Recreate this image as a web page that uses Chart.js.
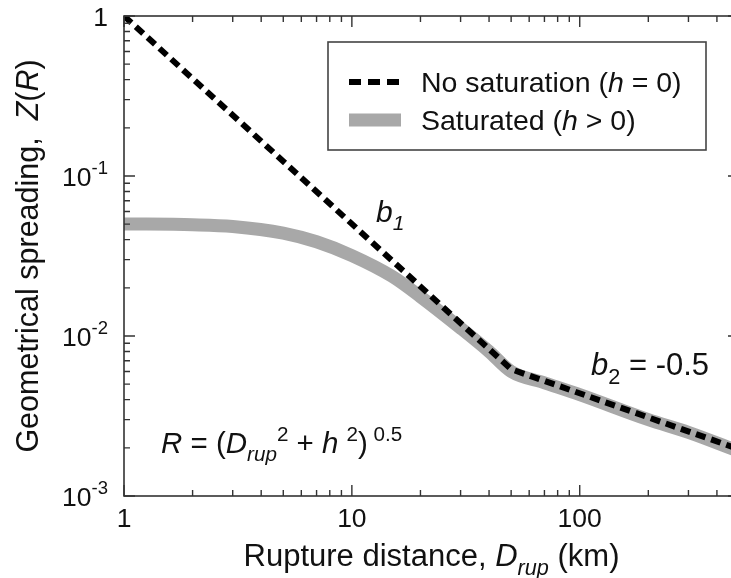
<!DOCTYPE html>
<html>
<head>
<meta charset="utf-8">
<script src="https://cdn.jsdelivr.net/npm/chart.js@4"></script>
<style>
    html, body { margin: 0; padding: 0; background: #fff; overflow: hidden; }
    #wrap { position: relative; width: 745px; height: 578px; }
</style>
</head>
<body>
<div id="wrap"><canvas id="spreadChart"></canvas></div>
<script>
(function () {
    'use strict';

    // --- Data ---
    // rupture distance (km) and geometrical spreading Z(R)
    const noSatDist = [1, 50, 500];
    const noSatZ = [1, 0.0062, 0.00196];

    const satDist = [1, 2, 3, 5, 7, 10, 15, 20, 30, 40, 50, 70, 100, 200, 300, 500];
    const satZ = [0.0502, 0.0496, 0.0484, 0.0440, 0.0388, 0.0318, 0.0236, 0.0176, 0.0112, 0.0080, 0.0060, 0.0051, 0.0043, 0.0030, 0.0025, 0.0019];

    const xTicks = [1, 10, 100];
    const xTickLabels = ['1', '10', '100'];
    const yTicks = [1, 0.1, 0.01, 0.001];
    const yTickLabels = [['1', ''], ['10', '-1'], ['10', '-2'], ['10', '-3']];

    const FONT = '"Liberation Sans", Arial, sans-serif';
    const INK = '#111';
    const AXIS = '#333';
    const GRAY = '#a8a8a8';

    function pairs(xs, ys) {
        return xs.map(function (x, i) { return { x: x, y: ys[i] }; });
    }

    // Draw a run of text pieces with italics, subscripts and superscripts
    function richWidth(ctx, parts, size) {
        let w = 0;
        parts.forEach(function (p) {
            const s = (p.sub || p.sup) ? size * 0.7 : size;
            ctx.font = (p.i ? 'italic ' : '') + s + 'px ' + FONT;
            w += ctx.measureText(p.t).width;
        });
        return w;
    }

    function drawRich(ctx, x, y, parts, size, align) {
        let cx = x;
        if (align === 'center') cx = x - richWidth(ctx, parts, size) / 2;
        if (align === 'right') cx = x - richWidth(ctx, parts, size);
        ctx.textAlign = 'left';
        ctx.textBaseline = 'alphabetic';
        parts.forEach(function (p) {
            let s = size, dy = 0;
            if (p.sub) { s = size * 0.7; dy = size * 0.28; }
            if (p.sup) { s = size * 0.7; dy = -size * 0.42; }
            ctx.font = (p.i ? 'italic ' : '') + s + 'px ' + FONT;
            ctx.fillText(p.t, cx, y + dy);
            cx += ctx.measureText(p.t).width;
        });
    }

    function minorValues(lo, hi) {
        const out = [];
        for (let d = lo; d < hi; d *= 10) {
            for (let k = 2; k <= 9; k++) {
                const v = k * d;
                if (v < hi * 1.0001) out.push(v);
            }
        }
        return out;
    }

    // --- Axes frame, ticks, labels, legend and notes ---
    const decorPlugin = {
        id: 'decor',
        afterDatasetsDraw: function (chart) {
            const ctx = chart.ctx;
            const a = chart.chartArea;
            const xs = chart.scales.x;
            const ys = chart.scales.y;
            ctx.save();

            // frame
            ctx.strokeStyle = AXIS;
            ctx.lineWidth = 1.6;
            ctx.strokeRect(a.left, a.top, a.right - a.left, a.bottom - a.top);

            // ticks pointing inward
            ctx.lineWidth = 1.4;
            ctx.beginPath();
            function xTick(v, len) {
                const px = xs.getPixelForValue(v);
                ctx.moveTo(px, a.bottom); ctx.lineTo(px, a.bottom - len);
                ctx.moveTo(px, a.top); ctx.lineTo(px, a.top + len);
            }
            function yTick(v, len) {
                const py = ys.getPixelForValue(v);
                ctx.moveTo(a.left, py); ctx.lineTo(a.left + len, py);
                ctx.moveTo(a.right, py); ctx.lineTo(a.right - len, py);
            }
            xTicks.forEach(function (v) { xTick(v, 11); });
            minorValues(1, 500).forEach(function (v) { xTick(v, 6); });
            yTicks.forEach(function (v) { yTick(v, 11); });
            minorValues(0.001, 1).forEach(function (v) { yTick(v, 6); });
            ctx.stroke();

            ctx.fillStyle = INK;

            // x tick labels
            ctx.font = '26.5px ' + FONT;
            ctx.textAlign = 'center';
            ctx.textBaseline = 'alphabetic';
            xTicks.forEach(function (v, i) {
                ctx.fillText(xTickLabels[i], xs.getPixelForValue(v), a.bottom + 31);
            });

            // y tick labels, 10 with superscript exponent
            yTickLabels.forEach(function (lab, i) {
                const py = ys.getPixelForValue(yTicks[i]);
                const parts = [{ t: lab[0] }];
                if (lab[1]) parts.push({ t: lab[1], sup: true });
                drawRich(ctx, a.left - 16, py + 9.5, parts, 26.5, 'right');
            });

            // axis titles
            const midX = (a.left + a.right) / 2;
            drawRich(ctx, midX, a.bottom + 70, [
                { t: 'Rupture distance, ' }, { t: 'D', i: true }, { t: 'rup', i: true, sub: true }, { t: ' (km)' }
            ], 31, 'center');

            ctx.save();
            ctx.translate(38, (a.top + a.bottom) / 2);
            ctx.rotate(-Math.PI / 2);
            drawRich(ctx, 0, 0, [
                { t: 'Geometrical spreading,  ' }, { t: 'Z', i: true }, { t: '(' }, { t: 'R', i: true }, { t: ')' }
            ], 30.5, 'center');
            ctx.restore();

            // legend
            ctx.lineWidth = 1.6;
            ctx.strokeStyle = '#444';
            ctx.fillStyle = '#fff';
            ctx.fillRect(328, 42, 378, 108);
            ctx.strokeRect(328, 42, 378, 108);

            ctx.lineCap = 'butt';
            ctx.strokeStyle = '#000';
            ctx.lineWidth = 6;
            ctx.setLineDash([12, 7]);
            ctx.beginPath(); ctx.moveTo(349, 82); ctx.lineTo(402, 82); ctx.stroke();
            ctx.setLineDash([]);
            ctx.strokeStyle = GRAY;
            ctx.lineWidth = 13;
            ctx.beginPath(); ctx.moveTo(349, 120); ctx.lineTo(401, 120); ctx.stroke();

            ctx.fillStyle = INK;
            drawRich(ctx, 421, 92, [
                { t: 'No saturation (' }, { t: 'h', i: true }, { t: ' = 0)' }
            ], 28.5, 'left');
            drawRich(ctx, 421, 130, [
                { t: 'Saturated (' }, { t: 'h', i: true }, { t: ' > 0)' }
            ], 28.5, 'left');

            // slope notes and distance definition
            drawRich(ctx, 376, 222, [{ t: 'b', i: true }, { t: '1', i: true, sub: true }], 30, 'left');
            drawRich(ctx, 591, 375, [{ t: 'b', i: true }, { t: '2', sub: true }, { t: ' = -0.5' }], 31, 'left');
            drawRich(ctx, 161, 453, [
                { t: 'R', i: true }, { t: ' = (' }, { t: 'D', i: true }, { t: 'rup', i: true, sub: true },
                { t: '2', sup: true }, { t: ' + ' }, { t: 'h', i: true }, { t: ' ' }, { t: '2', sup: true },
                { t: ')' }, { t: ' 0.5', sup: true }
            ], 29.5, 'left');

            ctx.restore();
        }
    };

    new Chart(document.getElementById('spreadChart'), {
        type: 'line',
        data: {
            datasets: [{
                label: 'No saturation (h = 0)',
                data: pairs(noSatDist, noSatZ),
                borderColor: '#000',
                borderWidth: 6,
                borderDash: [10, 6],
                borderCapStyle: 'butt',
                pointRadius: 0,
                tension: 0,
                clip: 0,
                order: 0
            }, {
                label: 'Saturated (h > 0)',
                data: pairs(satDist, satZ),
                borderColor: GRAY,
                borderWidth: 13,
                borderCapStyle: 'butt',
                pointRadius: 0,
                cubicInterpolationMode: 'monotone',
                clip: 0,
                order: 1
            }]
        },
        options: {
            responsive: true,
            maintainAspectRatio: false,
            animation: false,
            layout: { padding: { left: 124, top: 16, right: 6, bottom: 82 } },
            plugins: {
                legend: { display: false },
                tooltip: { enabled: false }
            },
            scales: {
                x: { type: 'logarithmic', min: 1, max: 500, display: false },
                y: { type: 'logarithmic', min: 0.001, max: 1, display: false }
            }
        },
        plugins: [decorPlugin]
    });
})();
</script>
</body>
</html>
